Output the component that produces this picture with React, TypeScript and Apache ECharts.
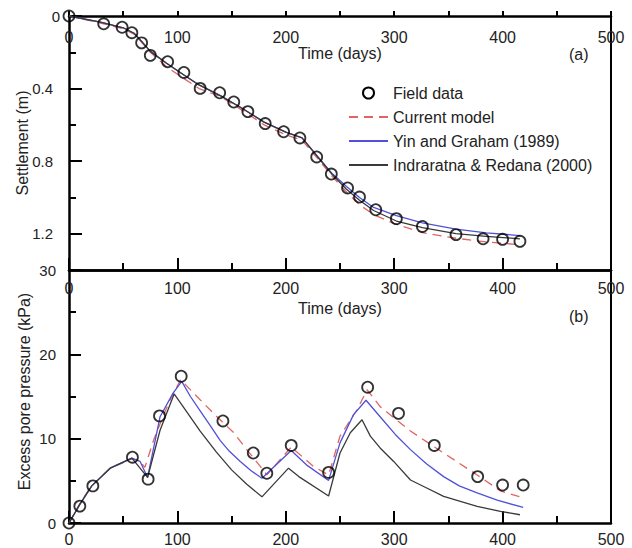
import React, { useEffect, useRef } from 'react';
import * as echarts from 'echarts';

// ---- Panel (a): settlement ----
const settleFieldDays = [0, 32, 49, 58, 67, 75, 91, 106, 121, 139, 152, 165, 181, 198, 213, 228.5, 242, 257, 268, 283, 302, 326, 357, 382, 400, 416];
const settleField = [0, 0.043, 0.062, 0.092, 0.148, 0.217, 0.252, 0.311, 0.399, 0.423, 0.474, 0.527, 0.593, 0.638, 0.672, 0.777, 0.871, 0.948, 0.998, 1.068, 1.117, 1.16, 1.205, 1.228, 1.231, 1.242];

const settleModelDays = [0, 30, 50, 60, 67, 75, 90, 106, 120, 140, 160, 180, 200, 215, 230, 243, 256, 268, 281, 302, 326, 357, 385, 418];
const settleCurrent = [0, 0.04, 0.07, 0.1, 0.145, 0.2, 0.28, 0.345, 0.4, 0.445, 0.52, 0.6, 0.655, 0.685, 0.79, 0.885, 0.97, 1.04, 1.095, 1.149, 1.194, 1.225, 1.245, 1.262];

const settleYinDays = [0, 30, 50, 60, 67, 75, 90, 106, 120, 140, 160, 180, 200, 215, 230, 243, 256, 268, 281, 302, 326, 357, 385, 416];
const settleYin = [0, 0.035, 0.065, 0.095, 0.14, 0.195, 0.26, 0.325, 0.38, 0.44, 0.51, 0.585, 0.64, 0.672, 0.78, 0.87, 0.94, 1.0, 1.055, 1.1, 1.14, 1.175, 1.195, 1.21];
const settleIndra = [0, 0.035, 0.065, 0.095, 0.14, 0.195, 0.26, 0.325, 0.38, 0.44, 0.51, 0.585, 0.64, 0.672, 0.78, 0.875, 0.955, 1.015, 1.072, 1.13, 1.167, 1.2, 1.215, 1.228];

// ---- Panel (b): excess pore pressure ----
const poreFieldDays = [0, 10, 22, 58.5, 73, 83.5, 103.5, 142, 170, 182.5, 205, 239.5, 275.5, 304, 337, 377, 400, 419];
const poreField = [0, 2.0, 4.4, 7.8, 5.2, 12.7, 17.4, 12.1, 8.3, 5.9, 9.2, 6.0, 16.1, 13.0, 9.2, 5.5, 4.5, 4.5];

const poreCurrentDays = [0, 10, 20, 38, 58, 65, 70, 78, 86, 94, 103, 118, 136, 152, 164, 179, 182.5, 192, 205, 225.6, 239.5, 250, 265.6, 275, 287, 315, 345.6, 376.5, 398, 419];
const poreCurrent = [0, 2.3, 4.3, 6.5, 7.6, 7.4, 6.6, 9.8, 12.4, 14.8, 17.0, 15.0, 12.65, 10.7, 8.7, 6.3, 5.7, 7.1, 9.0, 6.7, 5.7, 10.3, 13.4, 15.8, 13.8, 10.9, 8.3, 5.7, 3.8, 3.0];

const poreYinDays = [0, 10, 21, 38, 58, 65.6, 72.5, 84, 96, 104, 112, 121, 130, 139.4, 148, 158, 168, 178, 205, 220, 239.5, 250, 262.5, 274, 287, 301, 315, 330, 345.6, 360, 376.5, 395, 419];
const poreYin = [0, 2.2, 4.4, 6.5, 7.7, 7.3, 5.4, 12.6, 15.4, 16.8, 15.0, 13.3, 11.6, 9.8, 8.5, 7.3, 6.2, 5.3, 8.6, 6.8, 5.05, 9.5, 12.85, 14.55, 12.6, 10.5, 8.7, 7.0, 5.5, 4.4, 3.56, 2.7, 1.85];

const poreIndraDays = [0, 10, 21, 38, 58, 72.5, 84, 97, 108, 121, 136, 150, 164, 178, 202.5, 212, 239.5, 250, 259.5, 270.3, 278, 287, 299.5, 315, 330, 345.6, 376.5, 398, 416];
const poreIndra = [0, 2.2, 4.4, 6.5, 7.7, 5.4, 11.0, 15.3, 13.3, 10.9, 8.4, 6.3, 4.6, 3.1, 6.5, 5.5, 3.2, 8.3, 10.7, 12.25, 10.3, 8.9, 7.3, 5.1, 4.15, 3.16, 1.97, 1.38, 0.98];

const timeTicks = { min: 0, max: 500, interval: 100 };
const settleTicks = { min: 0, max: 1.4, interval: 0.4 };
const poreTicks = { min: 0, max: 30, interval: 10 };

const legendNames = ['Field data', 'Current model', 'Yin and Graham (1989)', 'Indraratna & Redana (2000)'];

const FONT = '"Liberation Sans", Arial, sans-serif';
const TXT = '#222';
const AX = { color: '#000', width: 2.5 };
const RED = '#e06464';
const BLUE = '#5050d8';
const BLACK = '#3a3a3a';

const zip = (xs: number[], ys: number[]) => xs.map((x, i) => [x, ys[i]]);

function lineSeries(name: string, data: number[][], color: string, dashed: boolean, xi: number, yi: number) {
  return {
    type: 'line',
    name,
    xAxisIndex: xi,
    yAxisIndex: yi,
    data,
    symbol: 'none',
    showSymbol: false,
    lineStyle: { color, width: 1.3, type: dashed ? [9, 6] : 'solid' },
    itemStyle: { color },
    z: 3,
  };
}

function scatterSeries(data: number[][], xi: number, yi: number) {
  return {
    type: 'scatter',
    name: 'Field data',
    xAxisIndex: xi,
    yAxisIndex: yi,
    data,
    symbol: 'circle',
    symbolSize: 11,
    clip: false,
    itemStyle: { color: 'rgba(0,0,0,0)', borderColor: '#000', borderWidth: 1.8 },
    z: 5,
  };
}

const labelStyle = { color: TXT, fontSize: 16, fontFamily: FONT };

export default function App() {
  const ref = useRef<HTMLDivElement>(null);
  useEffect(() => {
    document.body.style.margin = '0';
    const chart = echarts.init(ref.current!, null, { renderer: 'svg' });
    const option: any = {
      animation: false,
      backgroundColor: '#fff',
      textStyle: { fontFamily: FONT },
      grid: [
        { left: 69, right: 21, top: 16, height: 254, outerBoundsMode: 'none', containLabel: false },
        { left: 69, right: 21, top: 270, height: 253, outerBoundsMode: 'none', containLabel: false },
      ],
      xAxis: [
        {
          gridIndex: 0, type: 'value', position: 'top', ...timeTicks,
          axisLine: { show: true, onZero: false, lineStyle: AX },
          axisTick: { show: true, inside: false, length: 5, lineStyle: { color: '#000', width: 2 } },
          minorTick: { show: true, splitNumber: 2, length: 5, lineStyle: { color: '#000', width: 2 } },
          axisLabel: { inside: true, margin: 13, ...labelStyle, showMaxLabel: true, showMinLabel: true },
          splitLine: { show: false },
          name: 'Time (days)', nameLocation: 'middle', nameGap: -45, nameMoveOverlap: false,
          nameTextStyle: { ...labelStyle },
        },
        {
          gridIndex: 0, type: 'value', position: 'bottom', ...timeTicks,
          axisLine: { show: true, onZero: false, lineStyle: AX },
          axisTick: { show: true, inside: true, length: 12, lineStyle: { color: '#000', width: 2 } },
          minorTick: { show: true, splitNumber: 2, length: 7, lineStyle: { color: '#000', width: 2 } },
          axisLabel: { show: false },
          splitLine: { show: false },
        },
        {
          gridIndex: 1, type: 'value', position: 'top', ...timeTicks,
          axisLine: { show: true, onZero: false, lineStyle: AX },
          axisTick: { show: false },
          axisLabel: { inside: true, margin: 10, ...labelStyle, showMaxLabel: true, showMinLabel: true },
          splitLine: { show: false },
          name: 'Time (days)', nameLocation: 'middle', nameGap: -46, nameMoveOverlap: false,
          nameTextStyle: { ...labelStyle },
        },
        {
          gridIndex: 1, type: 'value', position: 'bottom', ...timeTicks,
          axisLine: { show: true, onZero: false, lineStyle: AX },
          axisTick: { show: true, inside: true, length: 12, lineStyle: { color: '#000', width: 2 } },
          minorTick: { show: true, splitNumber: 2, length: 7, lineStyle: { color: '#000', width: 2 } },
          axisLabel: { margin: 8, ...labelStyle, showMaxLabel: true, showMinLabel: true },
          splitLine: { show: false },
        },
      ],
      yAxis: [
        {
          gridIndex: 0, type: 'value', position: 'left', inverse: true, ...settleTicks,
          axisLine: { show: true, onZero: false, lineStyle: AX },
          axisTick: { show: true, inside: true, length: 13, lineStyle: { color: '#000', width: 2 } },
          axisLabel: {
            margin: 9, color: TXT, fontSize: 15, fontFamily: FONT, showMaxLabel: false,
            formatter: (v: number) => (v === 0 ? '{z|0}' : '{n|' + v.toFixed(1) + '}'),
            rich: {
              z: { fontSize: 15, fontFamily: FONT, color: TXT },
              n: { fontSize: 15, fontFamily: FONT, color: TXT, padding: [0, 7, 0, 0] },
            },
          },
          splitLine: { show: false },
          name: 'Settlement (m)', nameLocation: 'middle', nameGap: 39, nameRotate: 90,
          nameMoveOverlap: false,
          nameTextStyle: { ...labelStyle },
        },
        {
          gridIndex: 0, type: 'value', position: 'left', inverse: true, min: 0, max: 1.4, interval: 0.2,
          axisLine: { show: false },
          axisTick: { show: true, inside: true, length: 7, lineStyle: { color: '#000', width: 2 } },
          axisLabel: { show: false },
          splitLine: { show: false },
        },
        {
          gridIndex: 0, type: 'value', position: 'right', inverse: true, ...settleTicks,
          axisLine: { show: true, onZero: false, lineStyle: { color: '#000', width: 2 } },
          axisTick: { show: false },
          axisLabel: { show: false },
          splitLine: { show: false },
        },
        {
          gridIndex: 1, type: 'value', position: 'left', ...poreTicks,
          axisLine: { show: true, onZero: false, lineStyle: AX },
          axisTick: { show: true, inside: true, length: 12, lineStyle: { color: '#000', width: 2 } },
          minorTick: { show: true, splitNumber: 2, length: 7, lineStyle: { color: '#000', width: 2 } },
          axisLabel: { margin: 13, color: TXT, fontSize: 15, fontFamily: FONT, showMaxLabel: true },
          splitLine: { show: false },
          name: 'Excess pore pressure (kPa)', nameLocation: 'middle', nameGap: 37, nameRotate: 90,
          nameMoveOverlap: false,
          nameTextStyle: { ...labelStyle, padding: [0, 0, 0, 10] },
        },
        {
          gridIndex: 1, type: 'value', position: 'right', ...poreTicks,
          axisLine: { show: true, onZero: false, lineStyle: { color: '#000', width: 2 } },
          axisTick: { show: false },
          axisLabel: { show: false },
          splitLine: { show: false },
        },
      ],
      legend: {
        data: legendNames.map((n, i) => (i === 0 ? { name: n, itemStyle: { opacity: 1 } } : { name: n })),
        orient: 'vertical',
        left: 343,
        top: 80,
        itemWidth: 39,
        itemHeight: 11,
        itemGap: 8,
        selectedMode: false,
        itemStyle: { opacity: 0 },
        textStyle: { ...labelStyle },
      },
      graphic: [
        { type: 'text', left: 569, top: 46, style: { text: '(a)', fontSize: 16, fontFamily: FONT, fill: TXT } },
        { type: 'text', left: 569, top: 308, style: { text: '(b)', fontSize: 16, fontFamily: FONT, fill: TXT } },
      ],
      series: [
        scatterSeries(zip(settleFieldDays, settleField), 0, 0),
        lineSeries('Current model', zip(settleModelDays, settleCurrent), RED, true, 0, 0),
        lineSeries('Yin and Graham (1989)', zip(settleYinDays, settleYin), BLUE, false, 0, 0),
        lineSeries('Indraratna & Redana (2000)', zip(settleYinDays, settleIndra), BLACK, false, 0, 0),
        scatterSeries(zip(poreFieldDays, poreField), 3, 3),
        lineSeries('Current model', zip(poreCurrentDays, poreCurrent), RED, true, 3, 3),
        lineSeries('Yin and Graham (1989)', zip(poreYinDays, poreYin), BLUE, false, 3, 3),
        lineSeries('Indraratna & Redana (2000)', zip(poreIndraDays, poreIndra), BLACK, false, 3, 3),
      ],
    };
    chart.setOption(option);
    return () => chart.dispose();
  }, []);
  return <div ref={ref} style={{ width: 632, height: 548 }} />;
}
